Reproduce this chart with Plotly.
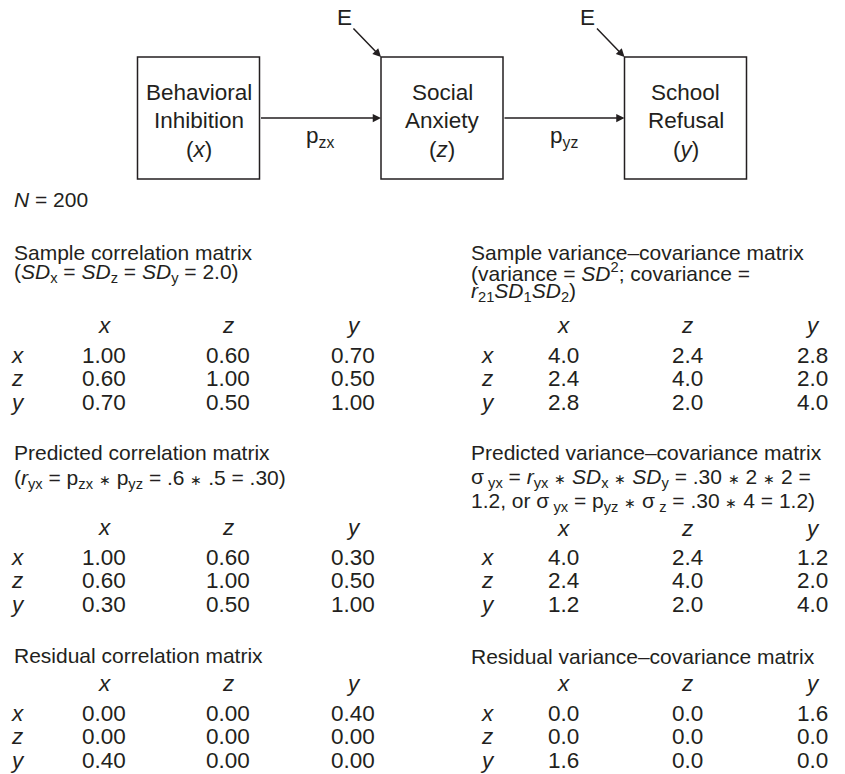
import plotly.graph_objects as go

# ---------------- data ----------------
var_labels = ["x", "z", "y"]
node_names = [["Behavioral", "Inhibition", "(<i>x</i>)"],
              ["Social", "Anxiety", "(<i>z</i>)"],
              ["School", "Refusal", "(<i>y</i>)"]]
path_labels = ["p<sub>zx</sub>", "p<sub>yz</sub>"]
error_label = "E"
sample_n = "<i>N</i> = 200"

sample_corr = [[1.00, 0.60, 0.70],
               [0.60, 1.00, 0.50],
               [0.70, 0.50, 1.00]]
pred_corr = [[1.00, 0.60, 0.30],
             [0.60, 1.00, 0.50],
             [0.30, 0.50, 1.00]]
resid_corr = [[0.00, 0.00, 0.40],
              [0.00, 0.00, 0.00],
              [0.40, 0.00, 0.00]]
sample_cov = [[4.0, 2.4, 2.8],
              [2.4, 4.0, 2.0],
              [2.8, 2.0, 4.0]]
pred_cov = [[4.0, 2.4, 1.2],
            [2.4, 4.0, 2.0],
            [1.2, 2.0, 4.0]]
resid_cov = [[0.0, 0.0, 1.6],
             [0.0, 0.0, 0.0],
             [1.6, 0.0, 0.0]]

AST = '<span style="font-size:14px">\u2217</span>'
left_titles = [
    ["Sample correlation matrix",
     "(<i>SD</i><sub>x</sub> = <i>SD</i><sub>z</sub> = <i>SD</i><sub>y</sub> = 2.0)"],
    ["Predicted correlation matrix",
     "(<i>r</i><sub>yx</sub> = p<sub>zx</sub> " + AST + " p<sub>yz</sub> = .6 " + AST + " .5 = .30)"],
    ["Residual correlation matrix"],
]
right_titles = [
    ["Sample variance\u2013covariance matrix",
     "(variance = <i>SD</i><sup>2</sup>; covariance =",
     "<i>r</i><sub>21</sub><i>SD</i><sub>1</sub><i>SD</i><sub>2</sub>)"],
    ["Predicted variance\u2013covariance matrix",
     "\u03c3<sub> yx</sub> = <i>r</i><sub>yx</sub> " + AST + " <i>SD</i><sub>x</sub> " + AST
     + " <i>SD</i><sub>y</sub> = .30 " + AST + " 2 " + AST + " 2 =",
     "1.2, or \u03c3<sub> yx</sub> = p<sub>yz</sub> " + AST + " \u03c3<sub> z</sub> = .30 "
     + AST + " 4 = 1.2)"],
    ["Residual variance\u2013covariance matrix"],
]

# ---------------- layout constants ----------------
W, H = 845, 774
PAGE_MARGIN = 8  # default body margin of the html page
FONT = "Liberation Sans, Arial, Helvetica, sans-serif"
INK = "#231f20"
FS = 21
FS_NUM = 22.5

box_left = [137.5, 381, 624.5]
box_w = 122
box_top, box_bot = 57, 179
arrow_y = 118

left_x = {"title": 12, "label": 17, "cols": [104, 228, 353]}
right_x = {"title": 469, "label": 487, "cols": [563, 687, 812]}

left_blocks = [
    {"titles": [252, 273], "header": 325, "row0": 355},
    {"titles": [452, 479], "header": 527, "row0": 557},
    {"titles": [655], "header": 683, "row0": 713},
]
right_blocks = [
    {"titles": [252, 272, 292], "header": 325, "row0": 355},
    {"titles": [452, 478, 502], "header": 528, "row0": 557},
    {"titles": [656], "header": 683, "row0": 713},
]
row_step = 23.7

fig = go.Figure()
ann = []
shapes = []


def text(x, y, s, anchor="center", size=FS):
    ann.append(dict(x=x, y=y, xref="x", yref="y", text=s, showarrow=False,
                    xanchor=anchor, yanchor="middle",
                    font=dict(family=FONT, size=size, color=INK)))


# ---------------- path diagram ----------------
for i, left in enumerate(box_left):
    shapes.append(dict(type="rect", xref="x", yref="y", x0=left, x1=left + box_w,
                       y0=box_top, y1=box_bot, line=dict(color=INK, width=1.5)))
    cx = left + box_w / 2
    for j, line in enumerate(node_names[i]):
        text(cx, 92 + 28.5 * j, line, size=22.5)

for i in range(2):
    x0 = box_left[i] + box_w
    x1 = box_left[i + 1]
    ann.append(dict(x=x1, y=arrow_y, ax=x0, ay=arrow_y, xref="x", yref="y",
                    axref="x", ayref="y", text="", showarrow=True,
                    arrowhead=2, arrowsize=1.1, arrowwidth=1.5, arrowcolor=INK,
                    standoff=0))
    text((x0 + x1) / 2, 137, path_labels[i], size=22.5)

for i in (1, 2):
    corner = box_left[i]
    ann.append(dict(x=corner, y=box_top, ax=corner - 29, ay=box_top - 30,
                    xref="x", yref="y", axref="x", ayref="y", text="",
                    showarrow=True, arrowhead=2, arrowsize=1.1, arrowwidth=1.5,
                    arrowcolor=INK, standoff=0))
    text(corner - 37, 17, error_label, size=22.5)

text(12, 199, sample_n, anchor="left")

# ---------------- matrices ----------------
def matrix(block, titles, pos, values, fmt):
    for k, line in enumerate(titles):
        text(pos["title"], block["titles"][k], line, anchor="left")
    for c, lab in enumerate(var_labels):
        text(pos["cols"][c], block["header"], "<i>%s</i>" % lab, size=FS_NUM)
    for r, lab in enumerate(var_labels):
        y = block["row0"] + row_step * r
        text(pos["label"], y, "<i>%s</i>" % lab, size=FS_NUM)
        for c in range(3):
            text(pos["cols"][c], y, fmt.format(values[r][c]), size=FS_NUM)


for blk, ttl, vals in zip(left_blocks, left_titles, [sample_corr, pred_corr, resid_corr]):
    matrix(blk, ttl, left_x, vals, "{:.2f}")
for blk, ttl, vals in zip(right_blocks, right_titles, [sample_cov, pred_cov, resid_cov]):
    matrix(blk, ttl, right_x, vals, "{:.1f}")

fig.update_layout(
    width=W - PAGE_MARGIN, height=H - PAGE_MARGIN,
    margin=dict(l=0, r=0, t=0, b=0),
    paper_bgcolor="white", plot_bgcolor="white",
    xaxis=dict(range=[PAGE_MARGIN, W], visible=False, fixedrange=True),
    yaxis=dict(range=[H, PAGE_MARGIN], visible=False, fixedrange=True),
    annotations=ann, shapes=shapes, showlegend=False,
)
fig.write_html("out.html")
